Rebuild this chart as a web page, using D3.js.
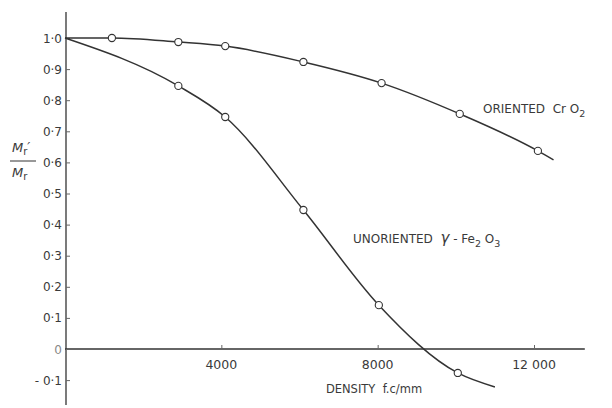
<!DOCTYPE html>
<html><head><meta charset="utf-8">
<script src="https://cdn.jsdelivr.net/npm/d3@7"></script>
<style>body{margin:0;background:#fff}text{font-family:"DejaVu Sans",sans-serif;fill:#3a3a3a;white-space:pre}</style>
</head><body><svg id="c" width="612" height="408"></svg>
<script>
const yTicks = [1.0, 0.9, 0.8, 0.7, 0.6, 0.5, 0.4, 0.3, 0.2, 0.1, 0, -0.1];
const yTickLabels = ["1·0","0·9","0·8","0·7","0·6","0·5","0·4","0·3","0·2","0·1","0","- 0·1"];
const xTicks = [4000, 8000, 12000];
const xTickLabels = ["4000", "8000", "12 000"];
// CrO2 oriented
const cro2X = [0, 1200, 2900, 4100, 6100, 8100, 10100, 12100, 12500];
const cro2Y = [1.0, 1.0, 0.987, 0.974, 0.923, 0.855, 0.756, 0.637, 0.608];
const cro2Marked = [false, true, true, true, true, true, true, true, false];
// gamma Fe2O3 unoriented
const feX = [0, 2900, 4100, 6100, 8030, 10050, 11000];
const feY = [1.0, 0.846, 0.746, 0.447, 0.141, -0.077, -0.122];
const feMarked = [false, true, true, true, true, true, false];

const svg = d3.select("#c");
const x = d3.scaleLinear().domain([0, 12000]).range([65, 534]);
const y = d3.scaleLinear().domain([0, 1.0]).range([349, 38]);
const ink = "#333";

// axes
svg.append("line").attr("x1", x(0)+1).attr("x2", x(0)+1).attr("y1", y(1.084)).attr("y2", y(-0.18)).attr("stroke", ink).attr("stroke-width", 1.3);
svg.append("line").attr("x1", x(0)).attr("x2", x(13300)).attr("y1", y(0)).attr("y2", y(0)).attr("stroke", ink).attr("stroke-width", 1.3);

const yAxis = d3.axisRight(y).tickValues(yTicks).tickSize(4).tickFormat("");
const gy = svg.append("g").attr("transform", `translate(${x(0)+1},0)`).call(yAxis);
gy.select(".domain").remove();
gy.selectAll(".tick line").attr("stroke", "#666");
svg.selectAll(".ylab").data(yTicks).enter().append("text")
  .attr("x", 62).attr("y", d => y(d) + 4.5).attr("text-anchor", "end")
  .attr("font-size", 12).text((d, i) => yTickLabels[i]).style("fill", d => d === 0 ? "#888" : "#3a3a3a");

const xAxis = d3.axisTop(x).tickValues(xTicks).tickSize(4).tickFormat("");
const gx = svg.append("g").attr("transform", `translate(0,${y(0)})`).call(xAxis);
gx.select(".domain").remove();
gx.selectAll(".tick line").attr("stroke", "#666");
svg.selectAll(".xlab").data(xTicks).enter().append("text")
  .attr("x", d => x(d)).attr("y", y(0) + 20).attr("text-anchor", "middle")
  .attr("font-size", 12.5).text((d, i) => xTickLabels[i]);

svg.append("text").attr("x", 374).attr("y", 393).attr("text-anchor", "middle").attr("font-size", 11.5)
  .text("DENSITY  f.c/mm");

// y label fraction
const yl = svg.append("g");
const num = yl.append("text").attr("x", 12).attr("y", 152).attr("font-size", 13);
num.append("tspan").attr("font-style", "italic").text("M");
num.append("tspan").attr("font-size", 10).attr("dy", 3).text("r");
num.append("tspan").attr("dy", -4).attr("font-size", 13).attr("font-style", "italic").text("′");
yl.append("line").attr("x1", 10).attr("x2", 36).attr("y1", 161).attr("y2", 161).attr("stroke", ink).attr("stroke-width", 1);
const den = yl.append("text").attr("x", 12).attr("y", 177).attr("font-size", 13);
den.append("tspan").attr("font-style", "italic").text("M");
den.append("tspan").attr("font-size", 10).attr("dy", 3).text("r");

// curves
const line = d3.line().x(d => x(d[0])).y(d => y(d[1])).curve(d3.curveMonotoneX);
function series(xs, ys, marked) {
  const pts = xs.map((v, i) => [v, ys[i]]);
  svg.append("path").datum(pts).attr("d", line).attr("fill", "none").attr("stroke", ink).attr("stroke-width", 1.5);
  svg.selectAll(null).data(pts.filter((p, i) => marked[i])).enter().append("circle")
    .attr("cx", d => x(d[0])).attr("cy", d => y(d[1])).attr("r", 3.6)
    .attr("fill", "#fff").attr("stroke", ink).attr("stroke-width", 1.1);
}
series(cro2X, cro2Y, cro2Marked);
series(feX, feY, feMarked);

// annotations
const a1 = svg.append("text").attr("x", 483).attr("y", 113).attr("font-size", 12);
a1.append("tspan").text("ORIENTED  Cr O");
a1.append("tspan").attr("font-size", 9.5).attr("dy", 4).text("2");
const a2 = svg.append("text").attr("x", 353).attr("y", 243).attr("font-size", 12);
a2.append("tspan").text("UNORIENTED  ");
a2.append("tspan").attr("font-style", "italic").attr("font-size", 15).text("γ");
a2.append("tspan").text(" - Fe");
a2.append("tspan").attr("font-size", 9.5).attr("dy", 4).text("2");
a2.append("tspan").attr("dy", -4).text(" O");
a2.append("tspan").attr("font-size", 9.5).attr("dy", 4).text("3");
</script></body></html>
